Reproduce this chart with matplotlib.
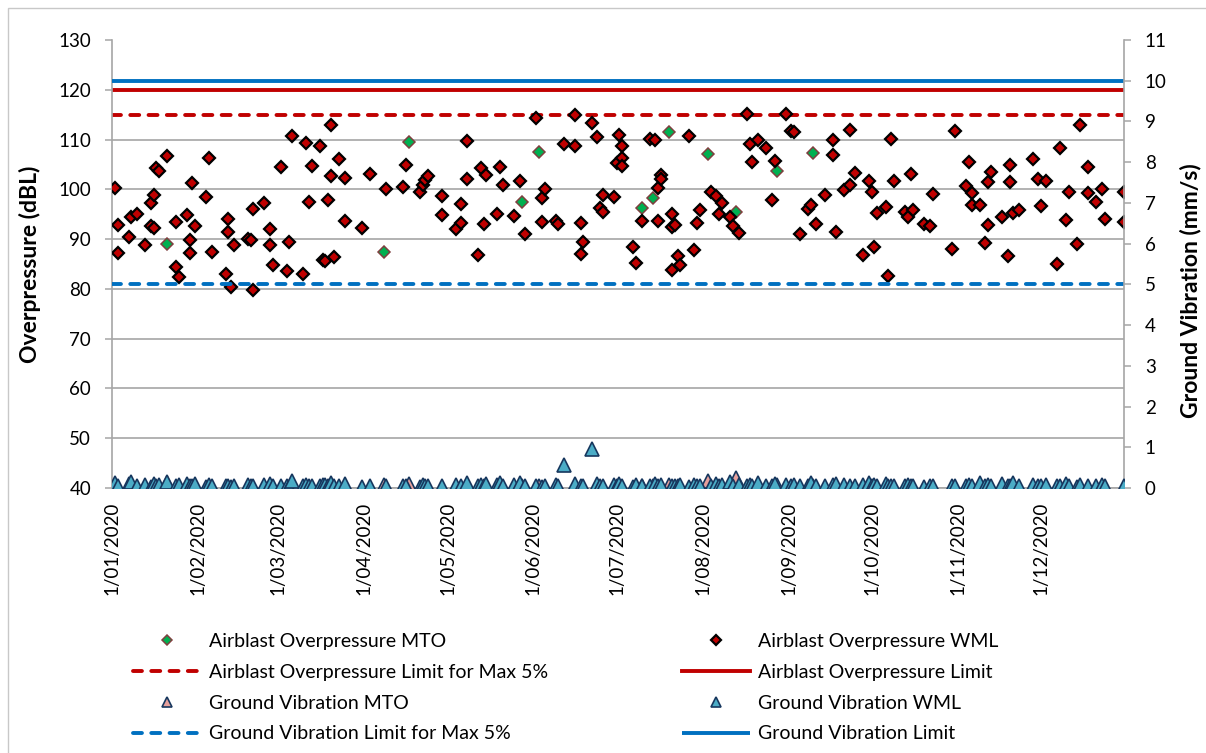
import numpy as np
import matplotlib
matplotlib.use("Agg")
import matplotlib.pyplot as plt
import matplotlib.dates as mdates
from matplotlib.ticker import FuncFormatter
from matplotlib.patches import Rectangle
from matplotlib.lines import Line2D

plt.rcParams['font.family'] = ['Lato', 'DejaVu Sans']

# ---- data (days counted from 1 Jan 2020) ----
start = np.datetime64('2020-01-01')
end = np.datetime64('2020-12-31')

ao_mto_days = [20, 98, 107, 148, 154, 191, 195, 201, 215, 225, 240, 253]
ao_mto_vals = [89.1, 87.5, 109.5, 97.4, 107.4, 96.2, 98.2, 111.6, 107.1, 95.4, 103.6, 107.2]

ao_wml_days = [1, 2, 2, 6, 7, 9, 12, 14, 14, 15, 15, 16, 17, 20, 23, 23, 24, 27, 28, 28,
               29, 30, 34, 35, 36, 41, 42, 42, 43, 44, 49, 50, 51, 51, 55, 57, 57, 58, 61, 63,
               64, 65, 69, 70, 71, 72, 75, 76, 77, 78, 79, 79, 80, 82, 84, 84, 90, 93, 99, 105,
               106, 111, 112, 113, 114, 119, 119, 124, 126, 126, 128, 128, 132, 133, 134, 135, 139, 140, 141, 145,
               147, 149, 153, 155, 155, 156, 160, 161, 163, 167, 167, 169, 169, 170, 173, 175, 176, 177, 177, 181,
               182, 183, 184, 184, 184, 188, 189, 191, 194, 196, 197, 197, 198, 198, 202, 202, 202, 203, 204, 205,
               208, 210, 211, 212, 216, 218, 219, 220, 223, 224, 226, 229, 230, 231, 233, 236, 238, 239, 243, 245,
               246, 248, 251, 252, 254, 257, 260, 260, 261, 264, 266, 266, 268, 271, 273, 274, 275, 276, 279, 280,
               281, 282, 286, 287, 288, 289, 293, 295, 296, 303, 304, 308, 309, 310, 310, 313, 315, 316, 316, 317,
               321, 323, 324, 324, 325, 327, 332, 334, 335, 337, 341, 342, 344, 345, 348, 349, 352, 352, 355, 357,
               358, 365, 365]
ao_wml_vals = [100.2, 92.8, 87.3, 90.4, 94.4, 95.0, 88.8, 92.6, 97.3, 92.3, 98.9, 104.3, 103.7, 106.7, 93.5, 84.3, 82.3, 94.8, 89.8, 87.2,
               101.3, 92.6, 98.5, 106.2, 87.4, 82.9, 94.0, 91.5, 80.4, 88.9, 90.0, 89.8, 79.8, 96.0, 97.2, 92.0, 88.8, 84.8, 104.4, 83.5,
               89.4, 110.7, 82.9, 109.4, 97.5, 104.7, 108.8, 85.9, 85.6, 97.9, 112.9, 102.7, 86.5, 106.0, 102.2, 93.7, 92.2, 103.1, 100.0, 100.4,
               104.9, 99.5, 100.9, 101.9, 102.7, 98.7, 94.8, 92.1, 97.1, 93.3, 109.7, 102.1, 86.9, 104.2, 93.0, 102.9, 95.0, 104.4, 100.9, 94.6,
               101.7, 91.0, 114.4, 98.3, 93.4, 100.1, 93.7, 93.0, 109.2, 114.9, 108.7, 93.3, 87.0, 89.5, 113.4, 110.6, 96.2, 98.9, 95.4, 98.4,
               105.2, 110.9, 108.8, 106.2, 104.7, 88.4, 85.3, 93.7, 110.2, 109.9, 100.2, 93.7, 102.9, 102.0, 95.0, 92.5, 83.8, 92.8, 86.6, 84.8,
               110.7, 87.8, 93.2, 95.8, 99.5, 98.7, 95.0, 97.2, 94.4, 92.6, 91.3, 115.1, 109.2, 105.4, 109.9, 108.4, 97.9, 105.6, 115.1, 111.8,
               111.5, 91.0, 96.0, 96.9, 93.0, 98.9, 110.0, 106.8, 91.5, 99.9, 100.9, 111.9, 103.2, 86.8, 101.7, 99.5, 88.4, 95.2, 96.5, 82.5,
               110.2, 101.7, 95.5, 94.5, 103.0, 95.9, 93.0, 92.6, 99.1, 88.0, 111.8, 100.7, 105.4, 99.2, 96.9, 96.9, 89.2, 101.5, 92.8, 103.5,
               94.5, 86.7, 104.8, 101.5, 95.2, 95.9, 106.0, 102.0, 96.7, 101.7, 85.0, 108.4, 93.8, 99.5, 89.0, 112.9, 104.4, 99.2, 97.5, 100.1,
               94.0, 99.4, 93.4]

gv_mto_days = [20, 98, 107, 148, 154, 191, 195, 201, 215, 225, 240, 253]
gv_mto_vals = [0.12, 0.08, 0.10, 0.04, 0.04, 0.04, 0.04, 0.08, 0.18, 0.25, 0.08, 0.04]

gv_wml_days = [1, 2, 6, 7, 9, 12, 14, 15, 16, 17,
               20, 23, 24, 27, 28, 29, 30, 34, 35, 36,
               41, 42, 43, 44, 49, 50, 51, 55, 57, 58,
               61, 63, 64, 65, 69, 70, 71, 72, 75, 76,
               77, 78, 79, 80, 82, 84, 90, 93, 99, 105,
               106, 111, 112, 113, 114, 119, 124, 126, 128, 132,
               133, 134, 135, 139, 140, 141, 145, 147, 149, 153,
               155, 156, 160, 161, 163, 167, 169, 170, 173, 175,
               176, 177, 181, 182, 183, 184, 188, 189, 191, 194,
               196, 197, 198, 202, 203, 204, 205, 208, 210, 211,
               212, 216, 218, 219, 220, 223, 224, 226, 229, 230,
               231, 233, 236, 238, 239, 243, 245, 246, 248, 251,
               252, 254, 257, 260, 261, 264, 266, 268, 271, 273,
               274, 275, 276, 279, 280, 281, 282, 286, 287, 288,
               289, 293, 295, 296, 303, 304, 308, 309, 310, 313,
               315, 316, 317, 321, 323, 324, 325, 327, 332, 334,
               335, 337, 341, 342, 344, 345, 348, 349, 352, 355,
               357, 358, 365]
gv_wml_vals = [0.12, 0.05, 0.10, 0.14, 0.06, 0.08, 0.03, 0.10, 0.05, 0.07,
               0.15, 0.04, 0.08, 0.10, 0.05, 0.06, 0.10, 0.03, 0.08, 0.05,
               0.04, 0.06, 0.02, 0.05, 0.07, 0.04, 0.06, 0.08, 0.10, 0.05,
               0.05, 0.04, 0.03, 0.16, 0.06, 0.08, 0.05, 0.04, 0.05, 0.08,
               0.07, 0.05, 0.12, 0.06, 0.04, 0.10, 0.03, 0.05, 0.06, 0.05,
               0.04, 0.02, 0.08, 0.05, 0.06, 0.05, 0.07, 0.04, 0.12, 0.06,
               0.08, 0.06, 0.10, 0.07, 0.12, 0.05, 0.08, 0.13, 0.06, 0.05,
               0.03, 0.06, 0.08, 0.05, 0.57, 0.10, 0.06, 0.04, 0.96, 0.10,
               0.06, 0.05, 0.08, 0.04, 0.10, 0.06, 0.03, 0.08, 0.05, 0.06,
               0.10, 0.05, 0.07, 0.04, 0.06, 0.05, 0.08, 0.03, 0.07, 0.05,
               0.06, 0.04, 0.10, 0.06, 0.08, 0.14, 0.05, 0.07, 0.06, 0.08,
               0.05, 0.12, 0.06, 0.05, 0.10, 0.07, 0.04, 0.08, 0.06, 0.05,
               0.12, 0.06, 0.05, 0.08, 0.10, 0.07, 0.05, 0.06, 0.08, 0.12,
               0.05, 0.07, 0.06, 0.10, 0.04, 0.06, 0.05, 0.05, 0.07, 0.04,
               0.06, 0.03, 0.05, 0.04, 0.05, 0.06, 0.04, 0.07, 0.05, 0.12,
               0.06, 0.08, 0.05, 0.10, 0.04, 0.06, 0.12, 0.05, 0.08, 0.06,
               0.05, 0.07, 0.04, 0.06, 0.10, 0.05, 0.03, 0.08, 0.06, 0.05,
               0.07, 0.04, 0.05]

ao_limit = 120
ao_limit_5 = 115
gv_limit = 10
gv_limit_5 = 5


def to_dates(days):
    return start + np.array(days, dtype='timedelta64[D]')


# ---- figure ----
W, H = 1206, 753
fig = plt.figure(figsize=(W / 100, H / 100), dpi=100)
fig.add_artist(Rectangle((8 / W, -0.05), 1.1, (H - 8) / H + 0.05, transform=fig.transFigure,
                         fill=False, edgecolor='#c8c8c8', lw=1))

ax = fig.add_axes([112 / W, 265 / H, 1012 / W, 448 / H])
ax2 = ax.twinx()

grey = '#a6a6a6'
red = '#C00000'
blue = '#0070C0'
dash = (0, (2.3, 2.4))
xspan = [start, end]

# primary axis: airblast
ax.plot(xspan, [ao_limit_5] * 2, color=red, lw=2.8, linestyle=dash, dash_capstyle='round', zorder=2)
ax.plot(xspan, [ao_limit] * 2, color=red, lw=2.8, solid_capstyle='butt', zorder=2)
h_ao_mto, = ax.plot(to_dates(ao_mto_days), ao_mto_vals, linestyle='none', marker='D', ms=6.4,
                    mfc='#00B050', mec='#7F3F3F', mew=1.1, zorder=3)
h_ao_wml, = ax.plot(to_dates(ao_wml_days), ao_wml_vals, linestyle='none', marker='D', ms=6.4,
                    mfc=red, mec='black', mew=1.6, zorder=4)

# secondary axis: ground vibration
h_gv_mto, = ax2.plot(to_dates(gv_mto_days), gv_mto_vals, linestyle='none', marker='^', ms=9.5,
                     mfc='#E6A09C', mec='#17375E', mew=1.2, zorder=3)
h_gv_wml, = ax2.plot(to_dates(gv_wml_days), gv_wml_vals, linestyle='none', marker='^', ms=9.5,
                     mfc='#4BACC6', mec='#17375E', mew=1.2, zorder=4)
h_gv5, = ax2.plot(xspan, [gv_limit_5] * 2, color=blue, lw=2.8, linestyle=dash, dash_capstyle='round', zorder=2)
h_gv, = ax2.plot(xspan, [gv_limit] * 2, color=blue, lw=2.8, solid_capstyle='butt', zorder=2)

h_ao5 = Line2D([], [], color=red, lw=2.8, linestyle=dash, dash_capstyle='round')
h_ao = Line2D([], [], color=red, lw=2.8)

# axes formatting
ax.set_xlim(start, end)
ax.set_ylim(40, 130)
ax.set_yticks(range(40, 131, 10))
ax2.set_ylim(0, 11)
ax2.set_yticks(range(0, 12))

ax.xaxis.set_major_locator(mdates.MonthLocator())
ax.xaxis.set_major_formatter(FuncFormatter(
    lambda x, pos: '{}/{:02d}/{}'.format(mdates.num2date(x).day, mdates.num2date(x).month, mdates.num2date(x).year)))

ax.yaxis.grid(True, color=grey, lw=1.2)
ax.set_axisbelow(True)
ax.yaxis.get_gridlines()[-1].set_visible(False)

for a in (ax, ax2):
    for s in a.spines.values():
        s.set_color(grey)
        s.set_linewidth(1.2)
    a.spines['top'].set_visible(False)
ax.spines['right'].set_visible(False)
ax2.spines['left'].set_visible(False)
ax2.spines['bottom'].set_visible(False)

ax.tick_params(axis='y', direction='out', length=5, width=1.1, color=grey, pad=10, labelsize=13.5)
ax2.tick_params(axis='y', direction='out', length=5, width=1.1, color=grey, pad=10, labelsize=13.5)
ax.tick_params(axis='x', length=0, pad=10, labelsize=13.5, labelrotation=90)

ax.set_ylabel('Overpressure (dBL)', fontsize=16.5, fontweight='bold')
ax.yaxis.set_label_coords(-0.070, 0.5)
ax2.set_ylabel('Ground Vibration (mm/s)', fontsize=16.5, fontweight='bold')
ax2.yaxis.set_label_coords(1.055, 0.44)

handles = [h_ao_mto, h_ao5, h_gv_mto, h_gv5, h_ao_wml, h_ao, h_gv_wml, h_gv]
labels = ['Airblast Overpressure MTO', 'Airblast Overpressure Limit for Max 5%',
          'Ground Vibration MTO', 'Ground Vibration Limit for Max 5%',
          'Airblast Overpressure WML', 'Airblast Overpressure Limit',
          'Ground Vibration WML', 'Ground Vibration Limit']
fig.legend(handles, labels, ncol=2, loc='upper left', bbox_to_anchor=(133 / W, 1 - 633 / H),
           frameon=False, fontsize=14, handlelength=3.5, handletextpad=0.4, markerscale=0.75,
           columnspacing=6.9, labelspacing=0.71, borderpad=0, borderaxespad=0, numpoints=1)

fig.savefig('out.png', dpi=100)
